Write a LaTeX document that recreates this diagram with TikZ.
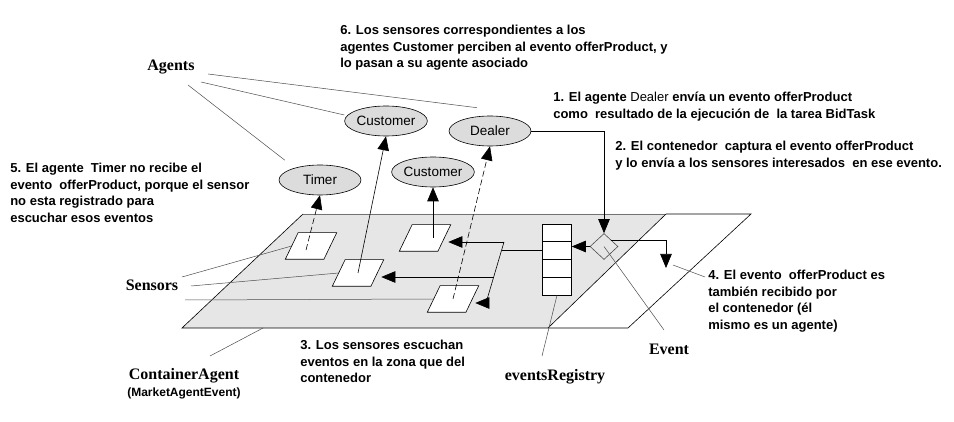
\documentclass[tikz,border=0pt]{standalone}
\usepackage{fontspec}
\setmainfont{Liberation Serif}
\setsansfont{Liberation Sans}
\usepackage{tikz}
\usetikzlibrary{shapes.geometric,arrows.meta,positioning}
\definecolor{planegray}{RGB}{230,230,230}
\definecolor{agentgray}{RGB}{220,220,220}

% slanted outline of a sensor node
\newcommand{\sensorbox}[1]{%
    \draw[-, fill=white] ([xshift=-6.4pt]#1.south west) -- ([xshift=-6.4pt]#1.south east)
        -- ([xshift=6.4pt]#1.north east) -- ([xshift=6.4pt]#1.north west) -- cycle;}

\begin{document}
\begin{tikzpicture}[
        x=1pt, y=-1pt,
        ->,
        >={Triangle[length=14pt,width=11.5pt]},
        line width=0.6pt,
        agent/.style={draw, ellipse, fill=agentgray, minimum width=82pt, minimum height=30pt, inner sep=0pt, font=\sffamily\fontsize{13.5}{16}\selectfont},
        sensor/.style={minimum width=38pt, minimum height=26pt, inner sep=0pt},
        remark/.style={inner sep=0pt, align=left, font=\sffamily\bfseries\fontsize{13}{16.5}\selectfont},
        lbl/.style={inner sep=1pt, font=\bfseries\fontsize{16}{18}\selectfont},
        pointer/.style={-, draw=black!70, line width=0.5pt},
        dashline/.style={dash pattern=on 6pt off 3pt}
        ]
    \useasboundingbox (0,0) rectangle (954,422);

    % Plane
    \fill[planegray] (303,214) -- (666,214) -- (548,328) -- (182,328) -- cycle;
    \draw[-] (666,214) -- (751,214) -- (628,328) -- (182,328) -- (303,214);
    \draw[-, black!55] (303,214) -- (666,214);
    \draw[-] (666,214) -- (548,328);

    % Nodes
    \node[agent] (cust1) at (386,121) {Customer};
    \node[agent] (dealer) at (490,131) {Dealer};
    \node[agent] (cust2) at (433,172) {Customer};
    \node[agent] (timer) at (320,180) {Timer};

    \node[sensor] (s1) at (311,246) {};
    \node[sensor] (s2) at (358,273) {};
    \node[sensor] (s3) at (425,238) {};
    \node[sensor] (s4) at (453,299) {};
    \foreach \s in {s1,s2,s3,s4} {\sensorbox{\s}}

    \node[draw, fill=white, minimum width=29pt, minimum height=71pt, inner sep=0pt] (registry) at (557,259.5) {};
    \foreach \k in {1,2,3}
        \draw[-] ([yshift={-17.75pt*\k}]registry.north west) -- ([yshift={-17.75pt*\k}]registry.north east);
    \node[diamond, draw=black!70, fill=planegray, minimum width=28pt, minimum height=26pt, inner sep=0pt] (event) at (604,246.5) {};

    \coordinate (jTop) at (504,242);
    \coordinate (jIn) at (502,250);
    \coordinate (jMid) at (494,277);
    \coordinate (jBot) at (486,303);
    \coordinate (recv) at (666,268);
    \coordinate (cBase) at (263,328);

    % Labels
    \node[lbl] (agents) at (171,67) {Agents};
    \node[lbl] (sensors) at (152,285) {Sensors};
    \node[lbl] (container) at (184,376) {ContainerAgent};
    \node[remark, font=\sffamily\bfseries\fontsize{12}{14}\selectfont] (market) [below=3pt of container] {(MarketAgentEvent)};
    \node[lbl] (evreg) at (555,377) {eventsRegistry};
    \node[lbl] (eventlbl) at (669,349) {Event};

    \node[remark, anchor=north west] (note6) at (340,25) {6. Los sensores correspondientes a los\\agentes Customer perciben al evento offerProduct, y\\lo pasan a su agente asociado};
    \node[remark, anchor=north west] (note1) at (553,92) {1. El agente {\mdseries Dealer} envía un evento offerProduct\\como\ \ resultado de la ejecución de\ \ la tarea BidTask};
    \node[remark, anchor=north west] (note2) at (615,141) {2. El contenedor\ \ captura el evento offerProduct\\y lo envía a los sensores interesados\ \ en ese evento.};
    \node[remark, anchor=north west] (note5) at (10,163) {5. El agente\ \ Timer no recibe el\\evento\ \ offerProduct, porque el sensor\\no esta registrado para\\escuchar esos eventos};
    \node[remark, anchor=north west] (note4) at (708,270) {4. El evento\ \ offerProduct es\\también recibido por\\el contenedor (él\\mismo es un agente)};
    \node[remark, anchor=north west] (note3) at (300,340) {3. Los sensores escuchan\\eventos en la zona que del\\contenedor};

    % Edges
    \draw (dealer.east) -| (event.north);
    \draw (event.west) -- (event.west -| registry.east);
    \draw (event.north east) -| (recv);
    \draw[-] (registry.west |- jIn) -- (jIn);
    \draw[-] (jTop) -- (jBot);
    \draw[shorten >=4pt] (jTop) -- (jTop -| s3.east);
    \draw[shorten >=4pt] (jMid) -- (jMid -| s2.east);
    \draw[shorten >=3pt] (jBot) -- (jBot -| s4.east);

    \draw[dashline] ([shift={(-5,4)}]s1.center) -- (timer.south);
    \draw (s2.center) -- (cust1.south);
    \draw (cust2.south |- s3.center) -- (cust2.south);
    \draw[dashline] (s4.center) -- (dealer.south);

    % Pointers
    \draw[pointer] ([shift={(37,7)}]agents.center) -- ([shift={(-13,-8)}]dealer.north);
    \draw[pointer] ([shift={(30,15)}]agents.center) -- ([shift={(0,-6)}]cust1.west);
    \draw[pointer] ([shift={(17,18)}]agents.center) -- ([shift={(-6,-9)}]timer.north west);
    \draw[pointer] ([shift={(30,-8)}]sensors.center) -- (s1.west);
    \draw[pointer] ([shift={(39,1)}]sensors.center) -- (s2.west);
    \draw[pointer] ([shift={(33,15)}]sensors.center) -- (s4.west);
    \draw[pointer] ([shift={(26,-20)}]container.center) -- (cBase);
    \draw[pointer] ([shift={(-13,-21)}]evreg.center) -- (registry.south);
    \draw[pointer] (event.center) -- ([shift={(-5,-19)}]eventlbl.center);
    \draw[pointer] ([shift={(7,-3)}]recv) -- ([shift={(-3,7)}]note4.north west);

\end{tikzpicture}
\end{document}
